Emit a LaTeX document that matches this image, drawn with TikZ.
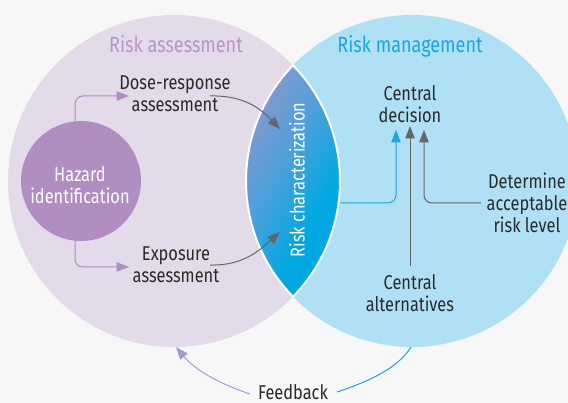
\documentclass[tikz,border=0pt]{standalone}
\usepackage{fontspec}
\setmainfont[FakeStretch=0.82]{Fira Sans}
\usetikzlibrary{arrows.meta}

\definecolor{bg}{HTML}{F7F7F8}
\definecolor{assessfill}{HTML}{E3DBE9}
\definecolor{managefill}{HTML}{AFE0F4}
\definecolor{hazfill}{HTML}{B08EC2}
\definecolor{purpleline}{HTML}{B08EC2}
\definecolor{blueline}{HTML}{1AA7E1}
\definecolor{grayline}{HTML}{666666}
\definecolor{textdark}{HTML}{2A2A2A}
\definecolor{assesstitle}{HTML}{B795CB}
\definecolor{managetitle}{HTML}{1AA7E1}
\definecolor{lensA}{HTML}{8E97CC}
\definecolor{lensM}{HTML}{4EA0DA}
\definecolor{lensB}{HTML}{00A8E2}
\definecolor{feedbackleft}{HTML}{A29BD3}

% purple (top) to cyan (bottom), with a narrow blend in the middle
\pgfdeclareverticalshading{lensshade}{100bp}{color(0bp)=(lensB); color(42bp)=(lensB); color(54bp)=(lensM); color(67bp)=(lensA); color(100bp)=(lensA)}

\begin{document}
\begin{tikzpicture}[x=1pt,y=-1pt,
  lbl/.style={text=textdark, font=\fontsize{20}{22}\selectfont, align=center, inner sep=0pt},
  ttl/.style={font=\fontsize{22}{24}\selectfont, inner sep=0pt, anchor=base},
  flow/.style={line width=1pt, -{Triangle[length=12.5pt,width=9.5pt]}}]

\clip (0,0) rectangle (568,403);
\fill[bg] (0,0) rectangle (568,403);

% the two overlapping fields
\fill[assessfill] (174,181) circle (166);
\fill[managefill] (412,181) circle (166);

% shaded overlap (square box keeps the blend angle undistorted)
\begin{scope}
  \clip (174,181) circle (166);
  \clip (412,181) circle (166);
  \shade[shading=lensshade, shading angle=60] (177,65) rectangle (409,297);
\end{scope}
\begin{scope}
  \clip (174,181) circle (166);
  \draw[white, line width=2pt] (412,181) circle (166);
\end{scope}
\begin{scope}
  \clip (412,181) circle (166);
  \draw[white, line width=2pt] (174,181) circle (166);
\end{scope}

% titles
\node[ttl, text=assesstitle] (ra) at (176,53) {Risk assessment};
\node[ttl, text=managetitle] (rm) at (410,53) {Risk management};

% nodes
\node[circle, fill=hazfill, minimum size=120pt, inner sep=0pt] (haz) at (81,181) {};
\node[lbl, text=white] (hazt) at (80,185) {Hazard\\identification};
\node[lbl] (dose) at (175,94) {Dose-response\\assessment};
\node[lbl] (expo) at (176,265) {Exposure\\assessment};
\node[lbl, text=white, rotate=90] (rc) at (297,180) {Risk characterization};
\node[lbl] (dec) at (410,104) {Central\\decision};
\node[lbl] (alt) at (410,293.5) {Central\\alternatives};
\node[lbl] (det) at (527,202.5) {Determine\\acceptable\\risk level};
\node[lbl, anchor=base, text depth=0pt] (fb) at (293,400) {Feedback};

% connector end points
\coordinate (hazTop) at (75,121);
\coordinate (hazBot) at (75,241);
\coordinate (doseIn) at (129,96);
\coordinate (expoIn) at (129,267);
\coordinate (doseOut) at (210,96);
\coordinate (expoOut) at (210,265);
\coordinate (rcIn1) at (280,129);
\coordinate (rcIn2) at (280,232);
\coordinate (rcOut) at (340,203);
\coordinate (decIn1) at (396,130);
\coordinate (decIn2) at (410,126);
\coordinate (decIn3) at (424,130);
\coordinate (altOut) at (410,266);
\coordinate (detOut) at (481,203);
\coordinate (fbL) at (250,394);
\coordinate (fbR) at (337,392);
\coordinate (assessBot) at (176,347);
\coordinate (manageBot) at (411,347);

% risk assessment flows
\draw[flow, purpleline, rounded corners=8pt] (hazTop) |- (doseIn);
\draw[flow, purpleline, rounded corners=8pt] (hazBot) |- (expoIn);
\draw[flow, grayline] (doseOut) .. controls (245,95) and (262,110) .. (rcIn1);
\draw[flow, grayline] (expoOut) .. controls (245,266) and (262,248) .. (rcIn2);

% risk management flows
\draw[flow, blueline, rounded corners=8pt] (rcOut) -| (decIn1);
\draw[flow, grayline] (altOut) -- (decIn2);
\draw[flow, grayline, rounded corners=8pt] (detOut) -| (decIn3);

% feedback loop
\draw[line width=1pt, blueline] (fbR) .. controls (370,381) and (398,368) .. (manageBot);
\draw[flow, feedbackleft] (fbL) .. controls (220,384) and (195,370) .. (assessBot);
\end{tikzpicture}
\end{document}
